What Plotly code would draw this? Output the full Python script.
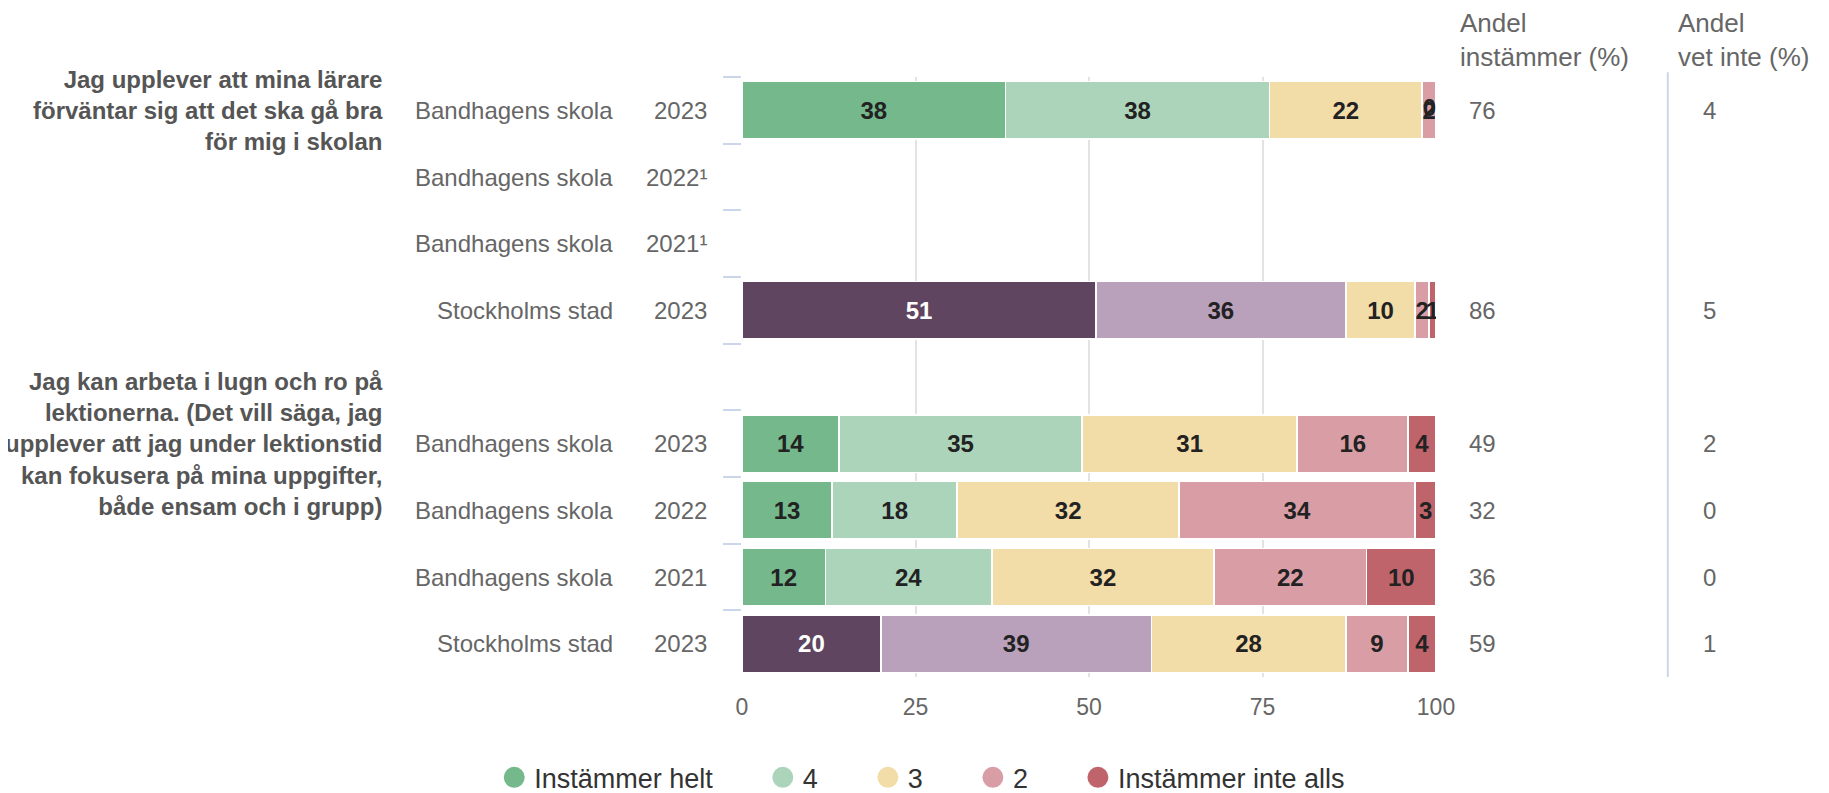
import plotly.graph_objects as go

# ---- data (rows top to bottom) ----
row_ids = ["r1", "r2", "r3", "r4", "r5", "r6", "r7", "r8", "r9"]
schools = ["Bandhagens skola", "Bandhagens skola", "Bandhagens skola", "Stockholms stad", "",
           "Bandhagens skola", "Bandhagens skola", "Bandhagens skola", "Stockholms stad"]
years = ["2023", "2022¹", "2021¹", "2023", "", "2023", "2022", "2021", "2023"]
questions = {
    "r1": "Jag upplever att mina lärare<br>förväntar sig att det ska gå bra<br>för mig i skolan",
    "r6": "Jag kan arbeta i lugn och ro på<br>lektionerna. (Det vill säga, jag<br>upplever att jag under lektionstid<br>kan fokusera på mina uppgifter,<br>både ensam och i grupp)",
}
series_names = ["Instämmer helt", "4", "3", "2", "Instämmer inte alls"]
helt = [38, None, None, 51, None, 14, 13, 12, 20]
v4 = [38, None, None, 36, None, 35, 18, 24, 39]
v3 = [22, None, None, 10, None, 31, 32, 32, 28]
v2 = [2, None, None, 2, None, 16, 34, 22, 9]
inte = [0, None, None, 1, None, 4, 3, 10, 4]
andel_instammer = [76, None, None, 86, None, 49, 32, 36, 59]
andel_vet_inte = [4, None, None, 5, None, 2, 0, 0, 1]
x_ticks = [0, 25, 50, 75, 100]

# ---- styles ----
school_colors = ["#74b88c", "#acd4ba", "#f2dca8", "#d99ea5", "#c0646c"]
stad_colors = ["#5f4560", "#b9a0bb", "#f2dca8", "#d99ea5", "#c0646c"]
FONT = "Liberation Sans, Arial, Helvetica, sans-serif"

fig = go.Figure()
all_series = [helt, v4, v3, v2, inte]
cum = [0.0] * len(row_ids)
zero_x, zero_y, zero_t = [], [], []
for i, (name, vals) in enumerate(zip(series_names, all_series)):
    colors = [stad_colors[i] if s == "Stockholms stad" else school_colors[i] for s in schools]
    tcolors = ["#ffffff" if (s == "Stockholms stad" and i == 0) else "#222222" for s in schools]
    fig.add_trace(go.Bar(
        y=row_ids, x=vals, orientation="h", name=name,
        marker=dict(color=colors, line=dict(color="#ffffff", width=1.5)),
        text=[("" if v is None else "<b>%d</b>" % v) for v in vals],
        textposition="inside", insidetextanchor="middle", constraintext="none",
        textfont=dict(size=24, color=tcolors, family=FONT),
        showlegend=False, hoverinfo="skip",
    ))
    for j, v in enumerate(vals):
        if v is None:
            continue
        cum[j] += v
        if v == 0:
            zero_x.append(cum[j])
            zero_y.append(row_ids[j])
            zero_t.append("<b>%d</b>" % v)

# labels of zero-width segments (kept inside the plot, like the original)
fig.add_trace(go.Scatter(
    x=zero_x, y=zero_y, text=zero_t, mode="text", textposition="middle left",
    textfont=dict(size=24, color="#222222", family=FONT), showlegend=False, hoverinfo="skip",
))

# legend entries with circle symbols
for i, name in enumerate(series_names):
    label = name if i == len(series_names) - 1 else name + "\u00a0" * 6
    fig.add_trace(go.Scatter(
        x=[None], y=[None], mode="markers", name=label,
        marker=dict(symbol="circle", size=18, color=school_colors[i],
                    line=dict(color=school_colors[i], width=5)),
        showlegend=True, hoverinfo="skip",
    ))

annotations = []
for rid, s, yv, a1, a2 in zip(row_ids, schools, years, andel_instammer, andel_vet_inte):
    if s:
        annotations.append(dict(xref="paper", yref="y", x=-0.183, y=rid, text=s, showarrow=False,
                                xanchor="right", yanchor="middle",
                                font=dict(size=24, color="#666666", family=FONT)))
    if yv:
        annotations.append(dict(xref="paper", yref="y", x=-0.0476, y=rid, text=yv, showarrow=False,
                                xanchor="right", yanchor="middle",
                                font=dict(size=24, color="#666666", family=FONT)))
    if a1 is not None:
        annotations.append(dict(xref="paper", yref="y", x=1.045, y=rid, text=str(a1), showarrow=False,
                                xanchor="left", yanchor="middle",
                                font=dict(size=24, color="#666666", family=FONT)))
    if a2 is not None:
        annotations.append(dict(xref="paper", yref="y", x=1.382, y=rid, text=str(a2), showarrow=False,
                                xanchor="left", yanchor="middle",
                                font=dict(size=24, color="#666666", family=FONT)))
for rid, q in questions.items():
    annotations.append(dict(xref="paper", yref="y", x=-0.514, y=rid, text="<b>" + q + "</b>",
                            showarrow=False, xanchor="right", yanchor="middle", align="right",
                            font=dict(size=24, color="#555555", family=FONT)))
annotations.append(dict(xref="paper", yref="paper", x=1.032, y=1.062, text="Andel<br>instämmer (%)",
                        showarrow=False, xanchor="left", yanchor="middle", align="left",
                        font=dict(size=26, color="#666666", family=FONT)))
annotations.append(dict(xref="paper", yref="paper", x=1.346, y=1.062, text="Andel<br>vet inte (%)",
                        showarrow=False, xanchor="left", yanchor="middle", align="left",
                        font=dict(size=26, color="#666666", family=FONT)))

fig.update_layout(
    template="none",
    width=1821, height=785,
    barmode="stack", bargap=0.14,
    paper_bgcolor="#ffffff", plot_bgcolor="#ffffff",
    margin=dict(l=734, r=393, t=69, b=116, autoexpand=False),
    font=dict(family=FONT, color="#666666"),
    annotations=annotations,
    shapes=[dict(type="line", xref="paper", yref="paper", x0=1.334, x1=1.334, y0=0, y1=1.008,
                 line=dict(color="#ccd6eb", width=2))],
    legend=dict(orientation="h", traceorder="normal",
                x=-0.357, xanchor="left", y=-0.168, yanchor="middle",
                font=dict(size=27, color="#333333", family=FONT),
                itemsizing="trace", bgcolor="rgba(0,0,0,0)"),
    xaxis=dict(range=[0, 100], tickvals=x_ticks, showgrid=True, gridcolor="#e3e3e3", gridwidth=2,
               zeroline=False, showline=False, ticks="", ticklabelstandoff=14,
               tickfont=dict(size=23, color="#666666", family=FONT), automargin=False,
               fixedrange=True),
    yaxis=dict(type="category", categoryorder="array", categoryarray=row_ids,
               range=[8.5, -0.5], showticklabels=False, showgrid=False, zeroline=False,
               ticks="outside", tickson="boundaries", ticklen=18, tickwidth=2, tickcolor="#ccd6eb",
               showline=False, automargin=False, fixedrange=True),
)

fig.write_html("out.html")
